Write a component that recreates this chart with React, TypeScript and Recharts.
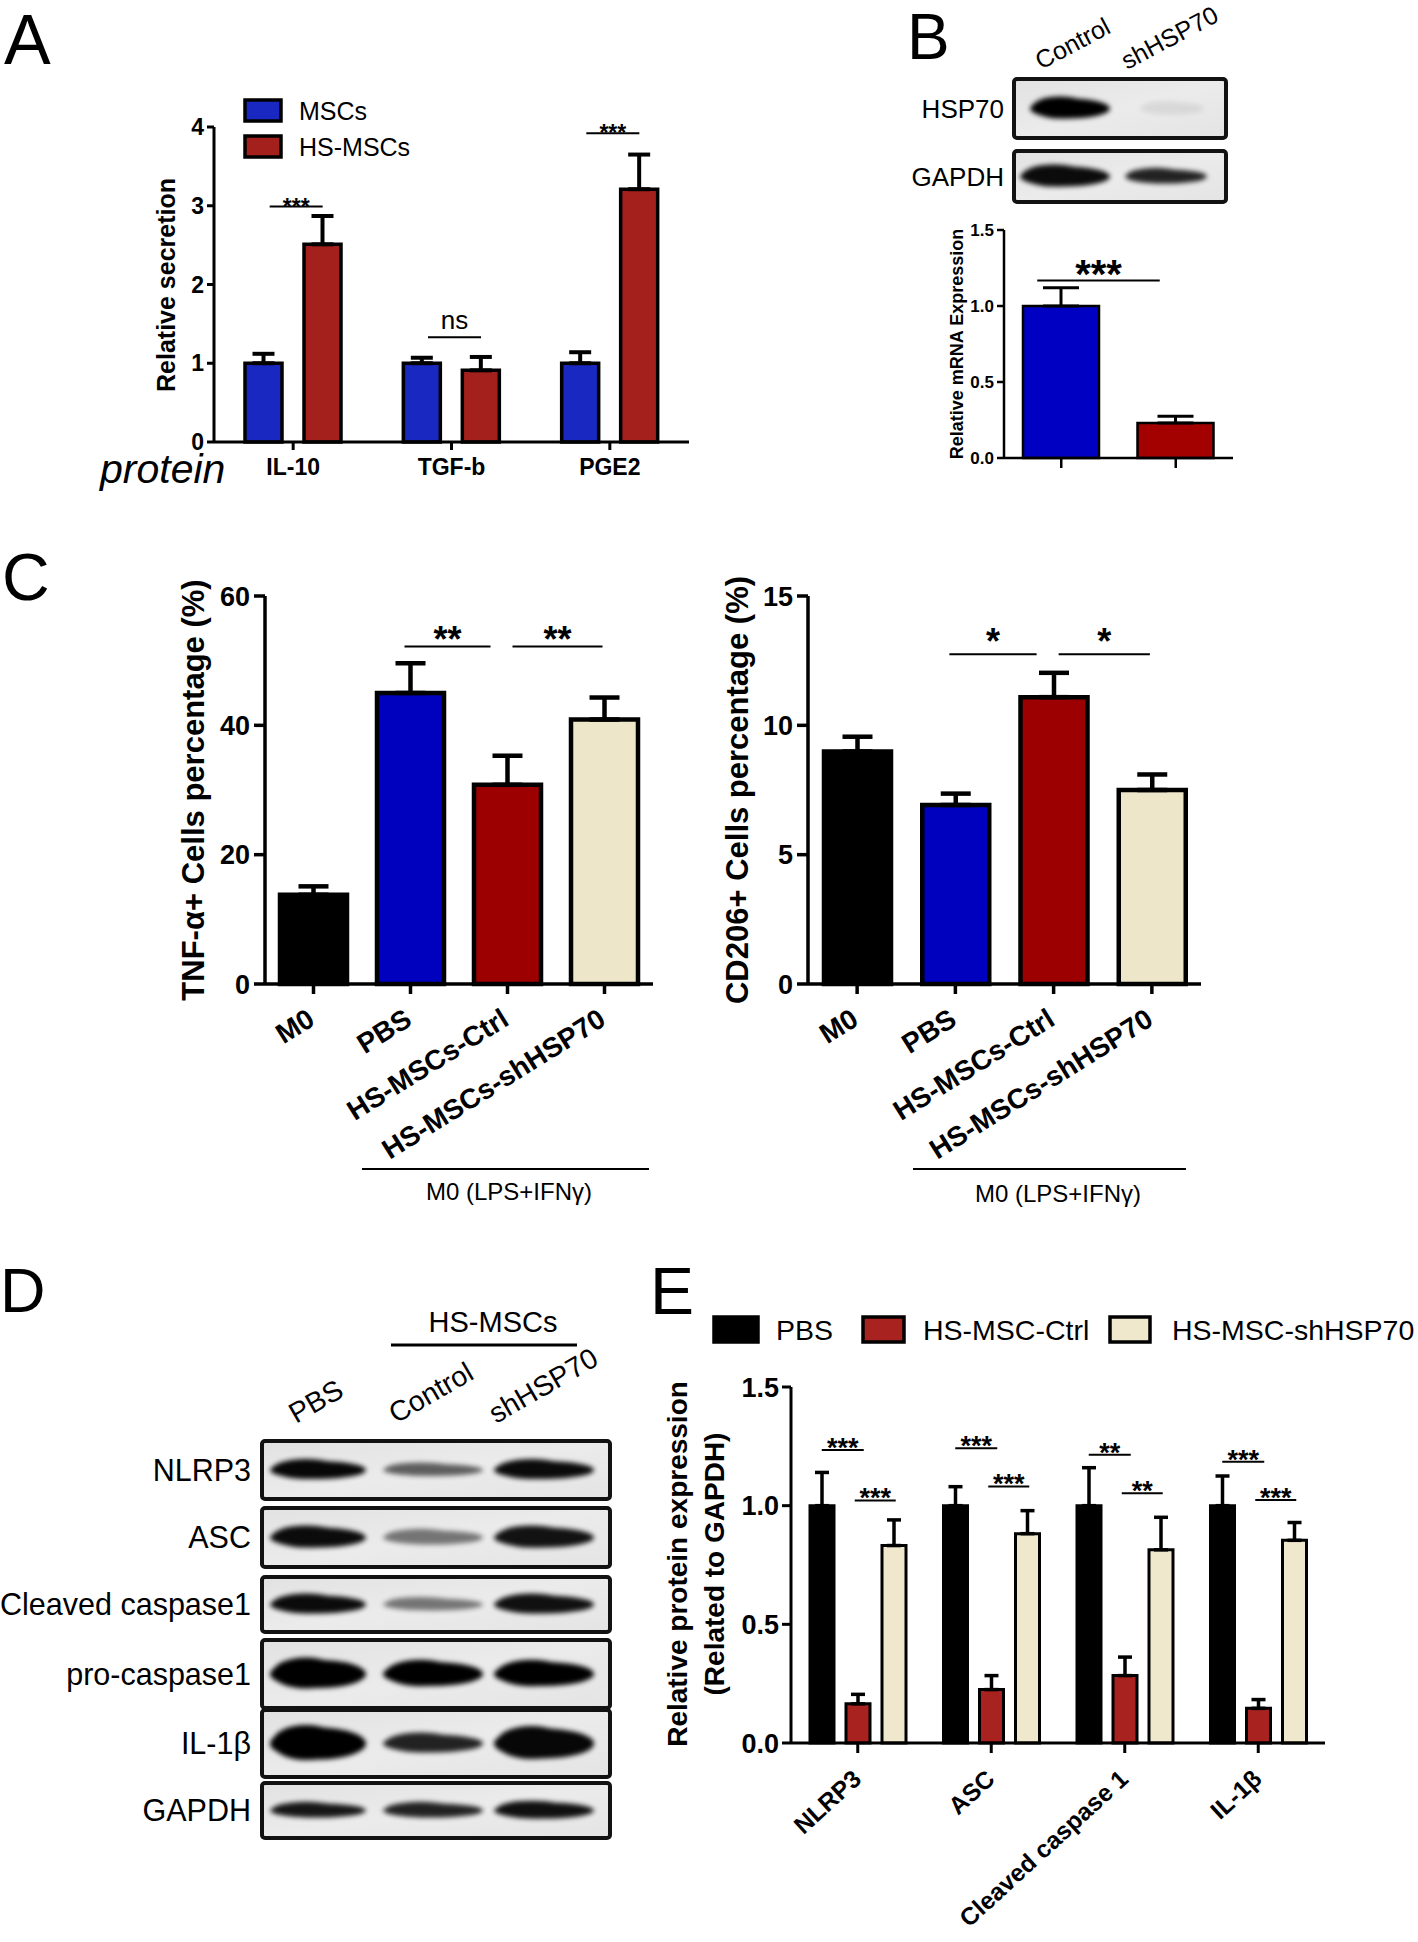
import React from 'react';
import { BarChart, Bar, XAxis, YAxis, ErrorBar, Cell, ReferenceLine } from 'recharts';

const FONT = '"Liberation Sans", Arial, Helvetica, sans-serif';

/* ======================= DATA ======================= */
// Panel A – secretion
const secretionProteins = ['IL-10', 'TGF-b', 'PGE2'];
const mscsSecretion = [1.0, 1.0, 1.0];
const mscsSecretionSem = [0.12, 0.07, 0.14];
const hsMscsSecretion = [2.51, 0.91, 3.21];
const hsMscsSecretionSem = [0.36, 0.17, 0.44];
const secretionTicks = [0, 1, 2, 3, 4];
const secretionSigY = [2.99, 1.33, 3.92];
const secretionSigText = ['***', 'ns', '***'];
const secretionSeries = ['MSCs', 'HS-MSCs'];

// Panel B – HSP70 knockdown
const hspGroups = ['Control', 'shHSP70'];
const hspMrna = [1.0, 0.23];
const hspMrnaSem = [0.12, 0.045];
const mrnaTicks = [0, 0.5, 1.0, 1.5];
const hspSigY = 1.167;
const hspSigText = '***';
const hspBlotRows = ['HSP70', 'GAPDH'];
const hspBlotIntensity = [
  [1.0, 0.07],
  [0.95, 0.85],
];

// Panel C – macrophage polarisation
const macrophageGroups = ['M0', 'PBS', 'HS-MSCs-Ctrl', 'HS-MSCs-shHSP70'];
const tnfPercent = [13.8, 45.0, 30.8, 40.9];
const tnfSem = [1.3, 4.6, 4.5, 3.4];
const tnfTicks = [0, 20, 40, 60];
const tnfSigY = [52.2, 52.2];
const tnfSigText = ['**', '**'];
const cd206Percent = [8.99, 6.92, 11.09, 7.5];
const cd206Sem = [0.57, 0.44, 0.94, 0.6];
const cd206Ticks = [0, 5, 10, 15];
const cd206SigY = [12.75, 12.75];
const cd206SigText = ['*', '*'];
const treatmentLabel = 'M0 (LPS+IFNγ)';

// Panel D – western blot
const blotLanes = ['PBS', 'Control', 'shHSP70'];
const blotProteins = ['NLRP3', 'ASC', 'Cleaved caspase1', 'pro-caspase1', 'IL-1β', 'GAPDH'];
const blotIntensity = [
  [0.97, 0.6, 0.95],
  [0.95, 0.5, 0.92],
  [0.95, 0.5, 0.93],
  [1.0, 1.0, 1.0],
  [1.0, 0.85, 0.97],
  [0.9, 0.85, 0.93],
];

// Panel E – inflammasome quantification
const inflammasomeProteins = ['NLRP3', 'ASC', 'Cleaved caspase 1', 'IL-1β'];
const exprSeries = ['PBS', 'HS-MSC-Ctrl', 'HS-MSC-shHSP70'];
const pbsExpr = [1.0, 1.0, 1.0, 1.0];
const pbsExprSem = [0.14, 0.08, 0.16, 0.125];
const ctrlExpr = [0.165, 0.225, 0.284, 0.146];
const ctrlExprSem = [0.04, 0.059, 0.078, 0.037];
const shExpr = [0.832, 0.882, 0.814, 0.854];
const shExprSem = [0.108, 0.097, 0.137, 0.075];
const exprTicks = [0, 0.5, 1.0, 1.5];
const exprSigPbsCtrlY = [1.235, 1.242, 1.215, 1.185];
const exprSigPbsCtrlText = ['***', '***', '**', '***'];
const exprSigCtrlShY = [1.022, 1.081, 1.052, 1.024];
const exprSigCtrlShText = ['***', '***', '**', '***'];

/* ======================= STYLE ======================= */
const A_COLORS = ['#1a28c2', '#a3201d'];
const B_COLORS = ['#0000c2', '#a30000'];
const C_COLORS = ['#000000', '#0000bf', '#9c0000', '#ede6c9'];
const E_COLORS = ['#000000', '#a8221f', '#efe8cc'];

type Plot = { left: number; top: number; right: number; bottom: number };
type Pad = { l: number; t: number; r: number; b: number };

function frame(plot: Plot, yAxisW: number, xAxisH: number, pad: Pad) {
  return {
    style: { position: 'absolute' as const, left: plot.left - pad.l, top: plot.top - pad.t },
    width: plot.right - plot.left + pad.l + pad.r,
    height: plot.bottom - plot.top + pad.t + pad.b,
    margin: { left: pad.l - yAxisW, top: pad.t, right: pad.r, bottom: pad.b - xAxisH },
  };
}

const line = (w: number) => ({ stroke: '#000', strokeWidth: w });
const tickText = (size: number) => ({ fill: '#000', fontSize: size, fontWeight: 700, fontFamily: FONT });
const fix1 = (v: number) => v.toFixed(1);

function sigShape(dx1: number, dx2: number, text: string, fontSize: number, textDy: number, bold: boolean, sw: number) {
  return (p: any) => {
    const x1 = p.x1 + dx1;
    const x2 = p.x2 + dx2;
    const y = p.y1;
    return (
      <g>
        <line x1={x1} y1={y} x2={x2} y2={y} stroke="#000" strokeWidth={sw} />
        <text x={(x1 + x2) / 2} y={y + textDy} textAnchor="middle" fontSize={fontSize}
          fontWeight={bold ? 700 : 400} fontFamily={FONT} fill="#000">{text}</text>
      </g>
    );
  };
}

function rotatedTick(angle: number, fontSize: number, dx: number, dy: number) {
  return (props: any) => {
    const { x, y, payload } = props;
    const tx = x + dx;
    const ty = y + dy;
    return (
      <text x={tx} y={ty} textAnchor="end" transform={`rotate(${angle} ${tx} ${ty})`}
        fontSize={fontSize} fontWeight={700} fontFamily={FONT} fill="#000">{payload.value}</text>
    );
  };
}

/* ======================= PANEL A ======================= */
function PanelA() {
  const plot = { left: 214, top: 127, right: 689, bottom: 442 };
  const f = frame(plot, 70, 50, { l: 100, t: 30, r: 30, b: 80 });
  const S = 37;
  const G = 22;
  const half = (S + G) / 2;
  const data = secretionProteins.map((p, i) => ({
    protein: p,
    mscs: mscsSecretion[i],
    mscsErr: [0, mscsSecretionSem[i]],
    hs: hsMscsSecretion[i],
    hsErr: [0, hsMscsSecretionSem[i]],
  }));
  return (
    <div style={f.style}>
      <BarChart width={f.width} height={f.height} data={data} margin={f.margin} barGap={G}>
        <XAxis dataKey="protein" height={50} interval={0} axisLine={line(3)} tickLine={line(3)}
          tickSize={8} tickMargin={9} tick={tickText(23)} />
        <YAxis width={70} domain={[0, 4]} ticks={secretionTicks} interval={0} axisLine={line(3)}
          tickLine={line(3)} tickSize={7} tickMargin={3} tick={tickText(23)} />
        <Bar dataKey="mscs" name={secretionSeries[0]} fill={A_COLORS[0]} stroke="#000" strokeWidth={3.5}
          barSize={S} isAnimationActive={false}>
          <ErrorBar dataKey="mscsErr" direction="y" width={11} stroke="#000" strokeWidth={4} isAnimationActive={false} />
        </Bar>
        <Bar dataKey="hs" name={secretionSeries[1]} fill={A_COLORS[1]} stroke="#000" strokeWidth={3.5}
          barSize={S} isAnimationActive={false}>
          <ErrorBar dataKey="hsErr" direction="y" width={11} stroke="#000" strokeWidth={4} isAnimationActive={false} />
        </Bar>
        {secretionProteins.map((p, i) => {
          const isNs = secretionSigText[i] === 'ns';
          return (
            <ReferenceLine key={p} segment={[{ x: p, y: secretionSigY[i] }, { x: p, y: secretionSigY[i] }]}
              ifOverflow="visible"
              shape={sigShape(-half + 6, half, secretionSigText[i], isNs ? 26 : 23, isNs ? -8 : 8, !isNs, 2)} />
          );
        })}
      </BarChart>
    </div>
  );
}

/* ======================= PANEL B ======================= */
function PanelB() {
  const plot = { left: 1004, top: 230, right: 1233, bottom: 458 };
  const f = frame(plot, 50, 30, { l: 70, t: 25, r: 30, b: 45 });
  const data = hspGroups.map((g, i) => ({ group: g, v: hspMrna[i], err: [0, hspMrnaSem[i]] }));
  return (
    <div style={f.style}>
      <BarChart width={f.width} height={f.height} data={data} margin={f.margin}>
        <XAxis dataKey="group" height={30} interval={0} axisLine={line(2.5)} tickLine={line(2.5)}
          tickSize={10} tickFormatter={() => ''} />
        <YAxis width={50} domain={[0, 1.5]} ticks={mrnaTicks} interval={0} axisLine={line(2.5)}
          tickLine={line(2.5)} tickSize={7} tickMargin={3} tick={tickText(17)} tickFormatter={fix1} />
        <Bar dataKey="v" stroke="#000" strokeWidth={2.5} barSize={76} isAnimationActive={false}>
          {data.map((d, i) => <Cell key={d.group} fill={B_COLORS[i]} />)}
          <ErrorBar dataKey="err" direction="y" width={18} stroke="#000" strokeWidth={3} isAnimationActive={false} />
        </Bar>
        <ReferenceLine segment={[{ x: hspGroups[0], y: hspSigY }, { x: hspGroups[1], y: hspSigY }]}
          ifOverflow="visible" shape={sigShape(-24, -16, hspSigText, 40, 7, true, 2)} />
      </BarChart>
    </div>
  );
}

/* ======================= PANEL C ======================= */
function PercentChart(props: {
  plot: Plot; values: number[]; sems: number[]; ticks: number[]; sigY: number[]; sigText: string[];
}) {
  const { plot, values, sems, ticks, sigY, sigText } = props;
  const f = frame(plot, 80, 40, { l: 110, t: 30, r: 60, b: 230 });
  const data = macrophageGroups.map((g, i) => ({ group: g, v: values[i], err: [0, sems[i]] }));
  const max = ticks[ticks.length - 1];
  return (
    <div style={f.style}>
      <BarChart width={f.width} height={f.height} data={data} margin={f.margin}>
        <XAxis dataKey="group" height={40} interval={0} axisLine={line(3.5)} tickLine={line(3.5)}
          tickSize={10} tickMargin={0} tick={rotatedTick(-32, 28, 3, 30)} />
        <YAxis width={80} domain={[0, max]} ticks={ticks} interval={0} axisLine={line(3.5)}
          tickLine={line(3.5)} tickSize={11} tickMargin={4} tick={tickText(27)} />
        <Bar dataKey="v" stroke="#000" strokeWidth={4.5} barSize={67} isAnimationActive={false}>
          {data.map((d, i) => <Cell key={d.group} fill={C_COLORS[i]} />)}
          <ErrorBar dataKey="err" direction="y" width={15} stroke="#000" strokeWidth={4.5} isAnimationActive={false} />
        </Bar>
        <ReferenceLine segment={[{ x: macrophageGroups[1], y: sigY[0] }, { x: macrophageGroups[2], y: sigY[0] }]}
          ifOverflow="visible" shape={sigShape(-6, -17, sigText[0], 36, sigText[0].length > 1 ? 6 : 0, true, 2)} />
        <ReferenceLine segment={[{ x: macrophageGroups[2], y: sigY[1] }, { x: macrophageGroups[3], y: sigY[1] }]}
          ifOverflow="visible" shape={sigShape(5, -2, sigText[1], 36, sigText[1].length > 1 ? 6 : 0, true, 2)} />
      </BarChart>
    </div>
  );
}

function PanelC() {
  return (
    <>
      <PercentChart plot={{ left: 265, top: 596, right: 653, bottom: 984 }} values={tnfPercent} sems={tnfSem}
        ticks={tnfTicks} sigY={tnfSigY} sigText={tnfSigText} />
      <PercentChart plot={{ left: 808, top: 596, right: 1201, bottom: 984 }} values={cd206Percent} sems={cd206Sem}
        ticks={cd206Ticks} sigY={cd206SigY} sigText={cd206SigText} />
    </>
  );
}

/* ======================= PANEL E ======================= */
function PanelE() {
  const plot = { left: 791, top: 1387, right: 1325, bottom: 1743 };
  const f = frame(plot, 70, 40, { l: 100, t: 30, r: 50, b: 240 });
  const S = 24;
  const G = 12;
  const step = S + G;
  const data = inflammasomeProteins.map((p, i) => ({
    protein: p,
    pbs: pbsExpr[i], pbsErr: [0, pbsExprSem[i]],
    ctrl: ctrlExpr[i], ctrlErr: [0, ctrlExprSem[i]],
    sh: shExpr[i], shErr: [0, shExprSem[i]],
  }));
  const keys: [string, string][] = [['pbs', 'pbsErr'], ['ctrl', 'ctrlErr'], ['sh', 'shErr']];
  return (
    <div style={f.style}>
      <BarChart width={f.width} height={f.height} data={data} margin={f.margin} barGap={G}>
        <XAxis dataKey="protein" height={40} interval={0} axisLine={line(3)} tickLine={line(3)}
          tickSize={10} tickMargin={0} tick={rotatedTick(-42.5, 24.5, 5, 28)} />
        <YAxis width={70} domain={[0, 1.5]} ticks={exprTicks} interval={0} axisLine={line(3)}
          tickLine={line(3)} tickSize={9} tickMargin={3} tick={tickText(27)} tickFormatter={fix1} />
        {keys.map(([k, e], i) => (
          <Bar key={k} dataKey={k} name={exprSeries[i]} fill={E_COLORS[i]} stroke="#000" strokeWidth={3}
            barSize={S} isAnimationActive={false}>
            <ErrorBar dataKey={e} direction="y" width={7} stroke="#000" strokeWidth={3.5} isAnimationActive={false} />
          </Bar>
        ))}
        {inflammasomeProteins.map((p, i) => (
          <ReferenceLine key={`a${p}`} segment={[{ x: p, y: exprSigPbsCtrlY[i] }, { x: p, y: exprSigPbsCtrlY[i] }]}
            ifOverflow="visible" shape={sigShape(-step, 6, exprSigPbsCtrlText[i], 27, 7, true, 2)} />
        ))}
        {inflammasomeProteins.map((p, i) => (
          <ReferenceLine key={`b${p}`} segment={[{ x: p, y: exprSigCtrlShY[i] }, { x: p, y: exprSigCtrlShY[i] }]}
            ifOverflow="visible" shape={sigShape(-3, step + 2, exprSigCtrlShText[i], 27, 7, true, 2)} />
        ))}
      </BarChart>
    </div>
  );
}

/* ======================= OVERLAY (titles, legends, blots) ======================= */
function VTitle({ cx, cy, size, children }: { cx: number; cy: number; size: number; children: React.ReactNode }) {
  return (
    <text x={cx} y={cy} transform={`rotate(-90 ${cx} ${cy})`} textAnchor="middle" dominantBaseline="central"
      fontSize={size} fontWeight={700} fontFamily={FONT} fill="#000">{children}</text>
  );
}

function BlotBox({ x, y, w, h, lanes, intensity, halfW, halfH }: {
  x: number; y: number; w: number; h: number; lanes: number[]; intensity: number[]; halfW: number[]; halfH: number[];
}) {
  return (
    <g>
      <rect x={x} y={y} width={w} height={h} rx={3} fill="url(#blotBg)" />
      {lanes.map((lx, i) => (
        <g key={i} opacity={intensity[i]} filter="url(#blotBlur)">
          <ellipse cx={lx} cy={y + h / 2} rx={halfW[i]} ry={halfH[i]} fill="#050505" />
          <ellipse cx={lx - halfW[i] * 0.25} cy={y + h / 2 - 1} rx={halfW[i] * 0.7} ry={halfH[i] * 1.1} fill="#050505" />
        </g>
      ))}
      <rect x={x} y={y} width={w} height={h} rx={3} fill="none" stroke="#121212" strokeWidth={4} />
    </g>
  );
}

function Overlay() {
  const dRows = [
    { top: 1441, h: 58, halfH: [9, 6, 9] },
    { top: 1508, h: 59, halfH: [10, 7, 10] },
    { top: 1577, h: 55, halfH: [9, 6, 9] },
    { top: 1640, h: 68, halfH: [14, 12, 12] },
    { top: 1710, h: 67, halfH: [16, 9, 15] },
    { top: 1783, h: 55, halfH: [7, 7, 8] },
  ];
  const dLaneX = [318, 433, 544];
  const dLaneLabelX = [296, 396, 496];
  const bRows = [
    { top: 79, h: 59, lanes: [1070, 1172], halfW: [40, 32], halfH: [10, 6] },
    { top: 151, h: 51, lanes: [1065, 1166], halfW: [45, 41], halfH: [10, 7] },
  ];
  const eLegend = [
    { sx: 714, sw: 44, tx: 776 },
    { sx: 863, sw: 41, tx: 923 },
    { sx: 1110, sw: 40, tx: 1172 },
  ];
  const txt = (size: number, weight = 400) => ({ fontSize: size, fontWeight: weight, fontFamily: FONT, fill: '#000' });
  return (
    <svg width={1418} height={1942} style={{ position: 'absolute', left: 0, top: 0, pointerEvents: 'none' }}>
      <defs>
        <filter id="blotBlur" x="-30%" y="-100%" width="160%" height="300%">
          <feGaussianBlur stdDeviation="2.8" />
        </filter>
        <linearGradient id="blotBg" x1="0" y1="0" x2="1" y2="1">
          <stop offset="0" stopColor="#e2e2e2" />
          <stop offset="0.5" stopColor="#ebebeb" />
          <stop offset="1" stopColor="#e4e4e4" />
        </linearGradient>
      </defs>

      {/* panel letters */}
      <text x={4} y={64} {...txt(70)}>A</text>
      <text x={907} y={59} {...txt(64)}>B</text>
      <text x={2} y={600} {...txt(66)}>C</text>
      <text x={0} y={1312} {...txt(63)}>D</text>
      <text x={650} y={1314} {...txt(66)}>E</text>

      {/* Panel A legend + titles */}
      {secretionSeries.map((s, i) => (
        <g key={s}>
          <rect x={245} y={100 + i * 36} width={36} height={21} fill={A_COLORS[i]} stroke="#000" strokeWidth={3.5} />
          <text x={299} y={120 + i * 36} {...txt(25)}>{s}</text>
        </g>
      ))}
      <VTitle cx={166} cy={285} size={25}>Relative secretion</VTitle>
      <text x={100} y={483} fontStyle="italic" {...txt(41)}>protein</text>

      {/* Panel B blot */}
      {hspGroups.map((g, i) => (
        <text key={g} x={1041 + i * 86} y={70} transform={`rotate(-28 ${1041 + i * 86} 70)`} {...txt(25)}>{g}</text>
      ))}
      {hspBlotRows.map((r, i) => (
        <g key={r}>
          <text x={1004} y={bRows[i].top + bRows[i].h / 2 + 9} textAnchor="end" {...txt(26)}>{r}</text>
          <BlotBox x={1014} y={bRows[i].top} w={212} h={bRows[i].h} lanes={bRows[i].lanes}
            intensity={hspBlotIntensity[i]} halfW={bRows[i].halfW} halfH={bRows[i].halfH} />
        </g>
      ))}
      <VTitle cx={957} cy={344} size={18}>Relative mRNA Expression</VTitle>

      {/* Panel C titles and brackets */}
      <VTitle cx={193} cy={790} size={31}>TNF-α+ Cells percentage (%)</VTitle>
      <VTitle cx={737} cy={790} size={31}>CD206+ Cells percentage (%)</VTitle>
      <line x1={362} x2={649} y1={1169} y2={1169} stroke="#000" strokeWidth={2} />
      <text x={509} y={1200} textAnchor="middle" {...txt(24)}>{treatmentLabel}</text>
      <line x1={913} x2={1186} y1={1169} y2={1169} stroke="#000" strokeWidth={2} />
      <text x={1058} y={1202} textAnchor="middle" {...txt(24)}>{treatmentLabel}</text>

      {/* Panel D blot */}
      <text x={493} y={1332} textAnchor="middle" {...txt(29)}>HS-MSCs</text>
      <line x1={391} x2={577} y1={1345} y2={1345} stroke="#000" strokeWidth={3} />
      {blotLanes.map((l, i) => (
        <text key={l} x={dLaneLabelX[i]} y={1424} transform={`rotate(-30 ${dLaneLabelX[i]} 1424)`} {...txt(28.5)}>{l}</text>
      ))}
      {blotProteins.map((p, i) => (
        <g key={p}>
          <text x={251} y={dRows[i].top + dRows[i].h / 2 + 10.5} textAnchor="end" {...txt(30.5)}>{p}</text>
          <BlotBox x={262} y={dRows[i].top} w={348} h={dRows[i].h} lanes={dLaneX}
            intensity={blotIntensity[i]} halfW={[48, 50, 50]} halfH={dRows[i].halfH} />
        </g>
      ))}

      {/* Panel E legend and title */}
      {exprSeries.map((s, i) => (
        <g key={s}>
          <rect x={eLegend[i].sx} y={1317} width={eLegend[i].sw} height={25} fill={E_COLORS[i]} stroke="#000" strokeWidth={3.5} />
          <text x={eLegend[i].tx} y={1340} {...txt(28.5)}>{s}</text>
        </g>
      ))}
      <VTitle cx={677} cy={1564} size={28}>Relative protein expression</VTitle>
      <VTitle cx={714} cy={1564} size={28}>(Related to GAPDH)</VTitle>
    </svg>
  );
}

export default function App() {
  return (
    <div style={{ position: 'absolute', left: 0, top: 0, width: 1418, height: 1942, background: '#fff', overflow: 'hidden', fontFamily: FONT }}>
      <PanelA />
      <PanelB />
      <PanelC />
      <PanelE />
      <Overlay />
    </div>
  );
}
